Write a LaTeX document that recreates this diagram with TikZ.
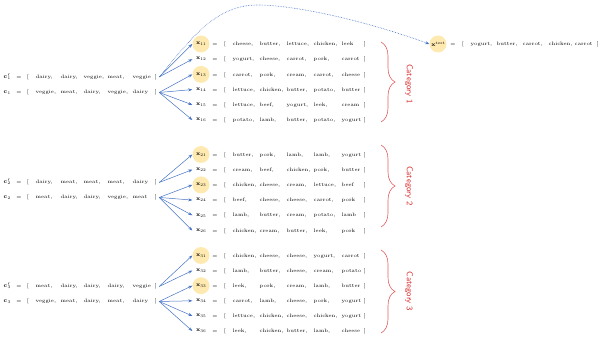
\documentclass[tikz,border=0pt]{standalone}
\usetikzlibrary{decorations.pathreplacing,arrows.meta}
\definecolor{hl}{RGB}{254,234,176}
\definecolor{arrblue}{RGB}{68,114,196}
\definecolor{brred}{RGB}{226,96,96}
\definecolor{txtred}{RGB}{214,40,40}
\newcommand{\tinyfs}{\fontsize{4}{4.5}\selectfont}
\newcommand{\labfs}{\fontsize{5.8}{6.5}\selectfont\bfseries}
\newcommand{\mylab}[2]{{\labfs #1}\kern0.2pt\raisebox{-1pt}{\tinyfs #2}}
\newcommand{\mylabp}[2]{{\labfs #1}\kern0.2pt\rlap{\raisebox{2pt}{\tinyfs$\prime$}}\raisebox{-1pt}{\tinyfs #2}}
\begin{document}
\begin{tikzpicture}[x=1pt,y=-1pt,
  every node/.style={font=\fontsize{5}{6}\selectfont, inner sep=0.5pt},
  word/.style={anchor=base west},
  sym/.style={anchor=base},
  lbl/.style={circle, minimum size=17pt, inner sep=0pt},
  hlbl/.style={lbl, fill=hl},
  clbl/.style={anchor=base},
  arr/.style={draw=arrblue, line width=0.5pt, -{Stealth[length=4pt,width=3pt]}},
  curv/.style={draw=arrblue, line width=0.6pt, densely dotted, -{Stealth[length=4pt,width=3pt]}},
  brc/.style={draw=brred, line width=0.6pt, decorate, decoration={brace, amplitude=14pt}},
  cat/.style={text=txtred, font=\sffamily\fontsize{8.5}{10}\selectfont, rotate=-90}
]
\useasboundingbox (0,0) rectangle (603,339);

% x rows
\foreach \n/\s/\y/\st/\a/\b/\c/\d/\e in {
  x11/11/44/hlbl/cheese/butter/lettuce/chicken/leek,
  x12/12/59.2/lbl/yogurt/cheese/carrot/pork/carrot,
  x13/13/74.4/hlbl/carrot/pork/cream/carrot/cheese,
  x14/14/89.6/lbl/lettuce/chicken/butter/potato/butter,
  x15/15/104.8/lbl/lettuce/beef/yogurt/leek/cream,
  x16/16/120/lbl/potato/lamb/butter/potato/yogurt,
  x21/21/154.5/hlbl/butter/pork/lamb/lamb/yogurt,
  x22/22/169.7/lbl/cream/beef/chicken/pork/butter,
  x23/23/184.9/hlbl/chicken/cheese/cream/lettuce/beef,
  x24/24/200.1/lbl/beef/cheese/cheese/carrot/pork,
  x25/25/215.3/lbl/lamb/butter/cream/potato/lamb,
  x26/26/230.5/lbl/chicken/cream/butter/leek/pork,
  x31/31/255.5/hlbl/chicken/cheese/cheese/yogurt/carrot,
  x32/32/270.6/lbl/lamb/butter/cheese/cream/potato,
  x33/33/285.7/hlbl/leek/pork/cream/lamb/butter,
  x34/34/300.8/lbl/carrot/lamb/cheese/pork/yogurt,
  x35/35/315.9/lbl/lettuce/chicken/cheese/chicken/yogurt,
  x36/36/331/lbl/leek/chicken/butter/lamb/cheese}{
  \node[\st] (\n) at (201,\y) {\mylab{x}{\s}};
  \node[sym] (\n-eq) at (215,\y+1.7) {=};
  \node[sym] (\n-l) at (225,\y+1.7) {[};
  \node[word] (\n-1) at (232,\y+1.7) {\a,};
  \node[word] (\n-2) at (259,\y+1.7) {\b,};
  \node[word] (\n-3) at (286,\y+1.7) {\c,};
  \node[word] (\n-4) at (313,\y+1.7) {\d,};
  \node[word] (\n-5) at (341,\y+1.7) {\e};
  \node[sym] (\n-r) at (365,\y+1.7) {]};
}

% c rows
\foreach \n/\lab/\y/\a/\b/\c/\d/\e in {
  c1p/{\mylabp{c}{1}}/76.5/dairy/dairy/veggie/meat/veggie,
  c1/{\mylab{c}{1}}/92/veggie/meat/dairy/veggie/dairy,
  c2p/{\mylabp{c}{2}}/182/dairy/meat/meat/meat/dairy,
  c2/{\mylab{c}{2}}/197/meat/dairy/dairy/veggie/meat,
  c3p/{\mylabp{c}{3}}/286/meat/dairy/dairy/dairy/veggie,
  c3/{\mylab{c}{3}}/301/veggie/meat/dairy/meat/dairy}{
  \node[clbl] (\n) at (7,\y+1.7) {\lab};
  \node[sym] (\n-eq) at (19,\y+1.7) {=};
  \node[sym] (\n-l) at (28,\y+1.7) {[};
  \node[word] (\n-1) at (35,\y+1.7) {\a,};
  \node[word] (\n-2) at (60,\y+1.7) {\b,};
  \node[word] (\n-3) at (83,\y+1.7) {\c,};
  \node[word] (\n-4) at (107,\y+1.7) {\d,};
  \node[word] (\n-5) at (132,\y+1.7) {\e};
  \node[sym] (\n-r) at (156,\y+1.7) {]};
}

% test row
\node[hlbl] (xtest) at (438,44) {{\labfs x}\kern0.2pt\raisebox{2pt}{\tinyfs test}};
\node[sym] (t-eq) at (453,45.7) {=};
\node[sym] (t-l) at (463,45.7) {[};
\node[word] (t-1) at (470,45.7) {yogurt,};
\node[word] (t-2) at (496,45.7) {butter,};
\node[word] (t-3) at (522,45.7) {carrot,};
\node[word] (t-4) at (548,45.7) {chicken,};
\node[word] (t-5) at (574,45.7) {carrot};
\node[sym] (t-r) at (598,45.7) {]};

% arrows
\foreach \s/\a/\b in {1/1/2, 2/1/2, 3/1/2}{
  \draw[arr] ([xshift=1.5pt]c\s p-r.east) -- (x\s\a.west);
  \draw[arr] ([xshift=1.5pt]c\s p-r.east) -- (x\s\b.west);
}
\foreach \s in {1,2,3}{
  \foreach \t in {3,4,5,6}{
    \draw[arr] ([xshift=1.5pt]c\s-r.east) -- (x\s\t.west);
  }
}

% dotted curve to test
\draw[curv] ([xshift=1.5pt]c1p-r.east) .. controls (190,40) and (215,5) .. (257,5)
  .. controls (300,5) and (375,24) .. (xtest.west);

% braces
\draw[brc] (381,42) -- (381,122);
\draw[brc] (381,145) -- (381,227);
\draw[brc] (381,250) -- (381,333);
\node[cat] (cat1) at (409,84) {Category 1};
\node[cat] (cat2) at (409,186) {Category 2};
\node[cat] (cat3) at (409,291.5) {Category 3};
\end{tikzpicture}
\end{document}
